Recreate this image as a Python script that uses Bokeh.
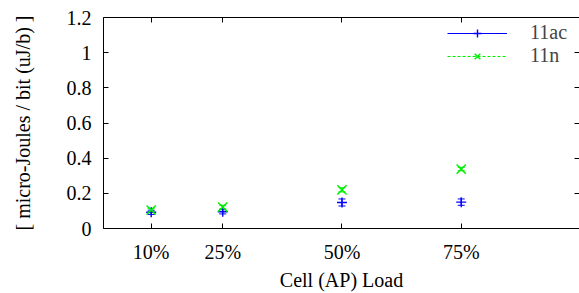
from bokeh.plotting import figure
from bokeh.models import (ColumnDataSource, Whisker, TeeHead, LinearAxis, FixedTicker,
                          Range1d, Legend, LegendItem, CustomJSTickFormatter)
from bokeh.embed import file_html
from bokeh.resources import INLINE

# ---- data ----
loads = [10, 25, 50, 75]
load_labels = ["10%", "25%", "50%", "75%"]
ac_vals = [0.092, 0.095, 0.148, 0.150]
ac_err = [0.012, 0.012, 0.020, 0.018]
n_vals = [0.105, 0.122, 0.220, 0.338]
n_err = [0.010, 0.010, 0.012, 0.010]
y_ticks = [0, 0.2, 0.4, 0.6, 0.8, 1.0, 1.2]

FONT = "Liberation Serif"
FS = "20px"
BLUE = "#0000ff"
GREEN = "#00ee00"
NAN = float("nan")

p = figure(width=579, height=293, output_backend="svg", toolbar_location=None,
           x_range=Range1d(0, 99.8), y_range=Range1d(0, 1.2),
           min_border_left=103, min_border_top=17, min_border_right=0, min_border_bottom=0)
p.outline_line_color = None
p.grid.visible = False
p.background_fill_color = "white"
p.border_fill_color = "white"

src_ac = ColumnDataSource(dict(x=loads, y=ac_vals,
                               lo=[v - e for v, e in zip(ac_vals, ac_err)],
                               hi=[v + e for v, e in zip(ac_vals, ac_err)]))
src_n = ColumnDataSource(dict(x=loads, y=n_vals,
                              lo=[v - e for v, e in zip(n_vals, n_err)],
                              hi=[v + e for v, e in zip(n_vals, n_err)]))

for src, col in ((src_ac, BLUE), (src_n, GREEN)):
    w = Whisker(source=src, base="x", lower="lo", upper="hi", line_color=col, line_width=1,
                upper_head=TeeHead(size=7, line_color=col, line_width=1),
                lower_head=TeeHead(size=7, line_color=col, line_width=1))
    p.add_layout(w)

r_ac = p.scatter("x", "y", source=src_ac, marker="cross", size=10, line_color=BLUE,
                 line_width=1.4)
r_n = p.scatter("x", "y", source=src_n, marker="x", size=13, line_color=GREEN,
                line_width=1.5)

# legend sample lines (hidden NaN point, only used to draw the key sample)
l_ac = p.line(x=[NAN], y=[NAN], line_color=BLUE, line_width=1.2)
l_n = p.line(x=[NAN], y=[NAN], line_color=GREEN, line_width=1, line_dash="3 2")

legend = Legend(items=[LegendItem(label="11ac", renderers=[l_ac, r_ac]),
                       LegendItem(label="11n", renderers=[l_n, r_n])],
                location=(344, 161), orientation="vertical",
                glyph_width=60, glyph_height=20, label_height=20, label_width=40,
                label_standoff=23, padding=0, margin=0, spacing=-4,
                border_line_color=None, background_fill_alpha=0,
                label_text_font=FONT, label_text_font_size=FS)
p.add_layout(legend)

# axes styling
xa = p.xaxis[0]
xa.ticker = FixedTicker(ticks=loads)
xa.major_label_overrides = {v: t for v, t in zip(loads, load_labels)}
xa.axis_label = "Cell (AP) Load"
ya = p.yaxis[0]
ya.ticker = FixedTicker(ticks=y_ticks)
ya.axis_label = "[ micro-Joules / bit (uJ/b) ]"
ya.formatter = CustomJSTickFormatter(code="return (Math.round(tick*10)/10).toString();")

for ax in (xa, ya):
    ax.major_tick_in = 5
    ax.major_tick_out = 0
    ax.minor_tick_in = 0
    ax.minor_tick_out = 0
    ax.axis_line_color = "black"
    ax.axis_line_width = 1
    ax.major_tick_line_color = "black"
    ax.major_label_text_font = FONT
    ax.major_label_text_font_size = FS
    ax.major_label_text_color = "black"
    ax.axis_label_text_font = FONT
    ax.axis_label_text_font_size = FS
    ax.axis_label_text_font_style = "normal"
    ax.axis_label_text_color = "black"
ya.major_label_standoff = 12
ya.axis_label_standoff = 30
xa.major_label_standoff = 12
xa.axis_label_standoff = 3

blank = CustomJSTickFormatter(code="return '';")
top = LinearAxis(ticker=FixedTicker(ticks=loads), formatter=blank,
                 major_tick_in=5, major_tick_out=0, minor_tick_in=0, minor_tick_out=0,
                 axis_line_color="black", major_label_standoff=0,
                 major_label_text_font_size="0px")
p.add_layout(top, "above")
right = LinearAxis(ticker=FixedTicker(ticks=y_ticks), formatter=blank,
                   major_tick_in=5, major_tick_out=0, minor_tick_in=0, minor_tick_out=0,
                   axis_line_color=None, major_label_standoff=0,
                   major_label_text_font_size="0px")
p.add_layout(right, "right")

open("out.html", "w").write(file_html(p, INLINE))
